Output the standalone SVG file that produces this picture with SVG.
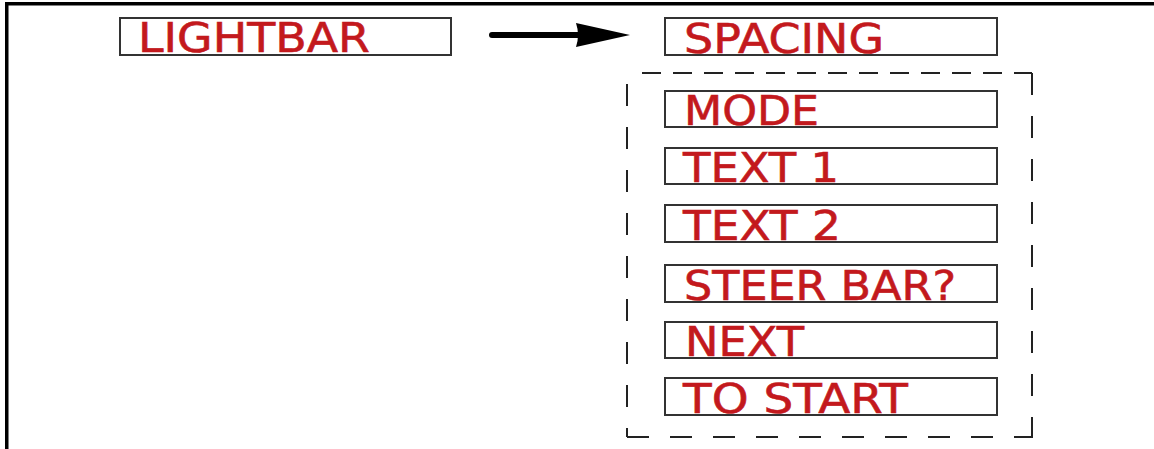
<svg xmlns="http://www.w3.org/2000/svg" width="1154" height="449" viewBox="0 0 1154 449">
  <defs>
    <style>
      .box { fill: none; stroke: #333333; stroke-width: 2; }
      .lbl { font-family: "DejaVu Sans", Verdana, sans-serif; font-size: 41px; fill: #c3191d; stroke: #c3191d; stroke-width: 0.6; }
      .dash { stroke: #222222; stroke-width: 2; fill: none; }
    </style>
  </defs>
  <rect x="0" y="0" width="1154" height="449" fill="#ffffff"/>
  <g id="frame">
    <rect x="5" y="2" width="1149" height="3.5" fill="#000"/>
    <rect x="5" y="2" width="3.5" height="447" fill="#000"/>
  </g>
  <g id="node-lightbar">
    <rect class="box" x="120" y="18" width="331" height="37"/>
    <text class="lbl" x="138" y="52" textLength="232" lengthAdjust="spacingAndGlyphs">LIGHTBAR</text>
  </g>
  <g id="node-spacing">
    <rect class="box" x="665" y="18" width="332" height="37"/>
    <text class="lbl" x="684" y="53" textLength="200" lengthAdjust="spacingAndGlyphs">SPACING</text>
  </g>
  <g id="group-submenu">
    <line class="dash" x1="642" y1="73" x2="1032" y2="73" stroke-dasharray="19 12"/>
    <line class="dash" x1="627" y1="84" x2="627" y2="437" stroke-dasharray="22 21"/>
    <line class="dash" x1="1032" y1="73" x2="1032" y2="437" stroke-dasharray="22 21"/>
    <line class="dash" x1="627" y1="437" x2="1033" y2="437" stroke-dasharray="22 21"/>
  </g>
  <g id="node-mode">
    <rect class="box" x="665" y="91" width="332" height="36"/>
    <text class="lbl" x="684" y="125" textLength="135" lengthAdjust="spacingAndGlyphs">MODE</text>
  </g>
  <g id="node-text1">
    <rect class="box" x="665" y="148" width="332" height="36"/>
    <text class="lbl" x="683" y="182" textLength="156" lengthAdjust="spacingAndGlyphs">TEXT 1</text>
  </g>
  <g id="node-text2">
    <rect class="box" x="665" y="205" width="332" height="37"/>
    <text class="lbl" x="683" y="240" textLength="158" lengthAdjust="spacingAndGlyphs">TEXT 2</text>
  </g>
  <g id="node-steerbar">
    <rect class="box" x="665" y="265" width="332" height="37"/>
    <text class="lbl" x="684" y="300" textLength="272" lengthAdjust="spacingAndGlyphs">STEER BAR?</text>
  </g>
  <g id="node-next">
    <rect class="box" x="665" y="322" width="332" height="36"/>
    <text class="lbl" x="685" y="356" textLength="119" lengthAdjust="spacingAndGlyphs">NEXT</text>
  </g>
  <g id="node-tostart">
    <rect class="box" x="665" y="378" width="332" height="37"/>
    <text class="lbl" x="683" y="413" textLength="225" lengthAdjust="spacingAndGlyphs">TO START</text>
  </g>
  <g id="connectors">
    <line x1="492" y1="35" x2="580" y2="35" stroke="#000" stroke-width="6" stroke-linecap="round"/>
    <path d="M576,23 L630,35 L576,47 Q580,35 576,23 Z" fill="#000"/>
  </g>
</svg>
